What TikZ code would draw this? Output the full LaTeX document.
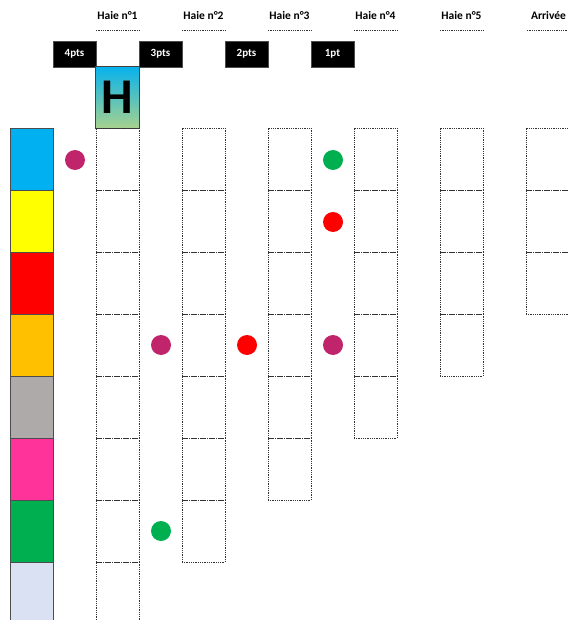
\documentclass[tikz,border=0pt]{standalone}
\usepackage{fontspec}
\setmainfont{Carlito}
\usepackage{tikz}
\usetikzlibrary{positioning}

\definecolor{barblue}{HTML}{00B0F0}
\definecolor{baryellow}{HTML}{FFFF00}
\definecolor{barred}{HTML}{FF0000}
\definecolor{barorange}{HTML}{FFC000}
\definecolor{bargray}{HTML}{AEAAAA}
\definecolor{barpink}{HTML}{FF3399}
\definecolor{bargreen}{HTML}{00B050}
\definecolor{barlight}{HTML}{D9E1F2}
\definecolor{dotplum}{RGB}{192,36,106}
\definecolor{hgradtop}{HTML}{08B2EC}
\definecolor{hgradbot}{HTML}{A6D28E}

\begin{document}
\begin{tikzpicture}[
  x=1pt, y=-1pt,
  colhead/.style={minimum width=43pt, minimum height=28pt, inner sep=0pt,
                  font=\fontsize{11.5}{13}\selectfont\bfseries},
  ptsbox/.style={draw=black!70, fill=black, text=white, minimum width=43pt,
                 minimum height=26pt, inner sep=0pt,
                 font=\fontsize{11}{13}\selectfont\bfseries},
  cell/.style={draw=black!80, densely dotted, line width=0.8pt,
               minimum width=43pt, minimum height=62pt, inner sep=0pt},
  lane/.style={draw=black!70, line width=0.9pt, minimum width=43pt,
               minimum height=62pt, inner sep=0pt},
  dot/.style={circle, minimum size=20pt, inner sep=0pt}
]
\useasboundingbox (0,0) rectangle (567,620);

% ===== titres des haies =====
\node[colhead] (h1) at (117.5,16) {Haie n°1};
\node[colhead] (h2) at (203.5,16) {Haie n°2};
\node[colhead] (h3) at (289.5,16) {Haie n°3};
\node[colhead] (h4) at (375.5,16) {Haie n°4};
\node[colhead] (h5) at (461.5,16) {Haie n°5};
\node[colhead] (arr) at (548.5,16) {Arrivée};
\foreach \h in {h1,h2,h3,h4,h5,arr}
  \draw[black!80, densely dotted, line width=0.8pt] (\h.south west) -- (\h.south east);

% ===== points =====
\node[ptsbox] (pts4) at (74.5,54) {4pts};
\node[ptsbox] (pts3) at (160.5,54) {3pts};
\node[ptsbox] (pts2) at (246.5,54) {2pts};
\node[ptsbox] (pts1) at (332.5,54) {1pt};

% ===== case H =====
\node[top color=hgradtop, bottom color=hgradbot,
      minimum width=43pt, minimum height=61pt, inner sep=0pt,
      font=\fontsize{50}{50}\selectfont\bfseries] (hbox) at (117.5,97.5) {H};
\draw[black!75, line width=1pt] (hbox.north west) rectangle (hbox.south east);

% ===== couloirs (couleurs) =====
\node[lane, fill=barblue]   (p1) at (31.5,159) {};
\node[lane, fill=baryellow] (p2) at (31.5,221) {};
\node[lane, fill=barred]    (p3) at (31.5,283) {};
\node[lane, fill=barorange] (p4) at (31.5,345) {};
\node[lane, fill=bargray]   (p5) at (31.5,407) {};
\node[lane, fill=barpink]   (p6) at (31.5,469) {};
\node[lane, fill=bargreen]  (p7) at (31.5,531) {};
\node[lane, fill=barlight]  (p8) at (31.5,593) {};

% ===== cases des haies =====
\foreach \c/\n in {1/8,2/7,3/6,4/5,5/4,6/3}
  \foreach \r in {1,...,\n}
    \node[cell] (c\c-\r) at ({117.5+86*(\c-1)},{159+62*(\r-1)}) {};

% ===== pions =====
\node[dot, fill=dotplum]   (d1) at (75,160) {};
\node[dot, fill=dotplum]   (d2) at (161,345) {};
\node[dot, fill=bargreen]  (d3) at (161,531) {};
\node[dot, fill=barred]    (d4) at (247,345) {};
\node[dot, fill=bargreen]  (d5) at (333,160) {};
\node[dot, fill=barred]    (d6) at (333,222) {};
\node[dot, fill=dotplum]   (d7) at (333,345) {};

\end{tikzpicture}
\end{document}
